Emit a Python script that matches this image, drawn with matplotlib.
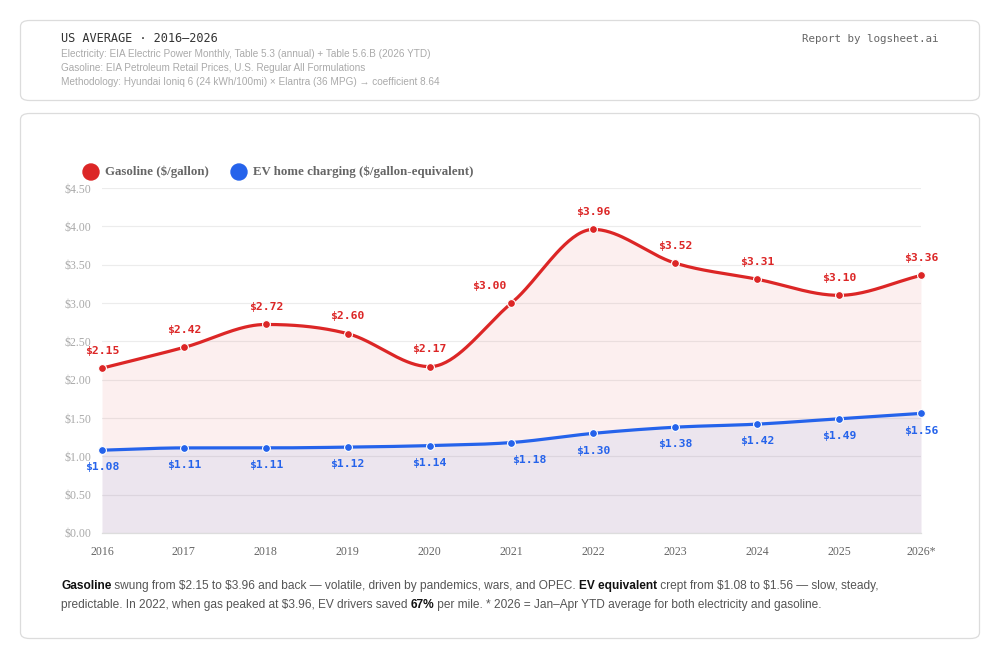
import numpy as np
import matplotlib
matplotlib.use("Agg")
import matplotlib.pyplot as plt
from matplotlib.patches import FancyBboxPatch, Circle

# ---------------- data ----------------
years = ["2016", "2017", "2018", "2019", "2020", "2021", "2022", "2023", "2024", "2025", "2026*"]
gasoline = [2.15, 2.42, 2.72, 2.60, 2.17, 3.00, 3.96, 3.52, 3.31, 3.10, 3.36]
ev_equiv = [1.08, 1.11, 1.11, 1.12, 1.14, 1.18, 1.30, 1.38, 1.42, 1.49, 1.56]
y_ticks = [0.0, 0.5, 1.0, 1.5, 2.0, 2.5, 3.0, 3.5, 4.0, 4.5]

RED = "#dc2626"
BLUE = "#2563eb"

W, H = 1000, 660


def monotone(xs, ys, n=40):
    xs = np.asarray(xs, float)
    ys = np.asarray(ys, float)
    h = np.diff(xs)
    d = np.diff(ys) / h
    m = np.zeros_like(ys)
    m[0], m[-1] = d[0], d[-1]
    for i in range(1, len(ys) - 1):
        if d[i - 1] * d[i] <= 0:
            m[i] = 0
        else:
            m[i] = (d[i - 1] + d[i]) / 2
    for i in range(len(d)):
        if d[i] == 0:
            m[i] = m[i + 1] = 0
            continue
        a, b = m[i] / d[i], m[i + 1] / d[i]
        s = a * a + b * b
        if s > 9:
            t = 3 / np.sqrt(s)
            m[i] = t * a * d[i]
            m[i + 1] = t * b * d[i]
    X, Y = [], []
    for i in range(len(d)):
        t = np.linspace(0, 1, n, endpoint=(i == len(d) - 1))
        h00 = 2 * t**3 - 3 * t**2 + 1
        h10 = t**3 - 2 * t**2 + t
        h01 = -2 * t**3 + 3 * t**2
        h11 = t**3 - t**2
        X.append(xs[i] + t * h[i])
        Y.append(h00 * ys[i] + h10 * h[i] * m[i] + h01 * ys[i + 1] + h11 * h[i] * m[i + 1])
    return np.concatenate(X), np.concatenate(Y)


fig = plt.figure(figsize=(W / 100, H / 100), dpi=100)
fig.patch.set_facecolor("white")


def fx(px):
    return px / W


def fy(py):
    return 1 - py / H


# cards
for (x0, y0, x1, y1) in [(20.5, 20.5, 979.5, 100.5), (20.5, 113.5, 979.5, 638.5)]:
    card = FancyBboxPatch((fx(x0), fy(y1)), fx(x1 - x0), (y1 - y0) / H,
                          boxstyle="round,pad=0,rounding_size=0.009",
                          transform=fig.transFigure, facecolor="white",
                          edgecolor="#dcdcdc", linewidth=0.9, zorder=-5)
    fig.patches.append(card)

# header texts
fig.text(fx(61), fy(39), "US AVERAGE · 2016–2026", family="DejaVu Sans Mono",
         fontsize=8.6, color="#333333", va="center", ha="left")
fig.text(fx(938), fy(39), "Report by logsheet.ai", family="DejaVu Sans Mono",
         fontsize=7.8, color="#666666", va="center", ha="right")
sub = ["Electricity: EIA Electric Power Monthly, Table 5.3 (annual) + Table 5.6.B (2026 YTD)",
       "Gasoline: EIA Petroleum Retail Prices, U.S. Regular All Formulations",
       "Methodology: Hyundai Ioniq 6 (24 kWh/100mi) × Elantra (36 MPG) → coefficient 8.64"]
for i, s in enumerate(sub):
    fig.text(fx(61), fy(54 + 14 * i), s, family="Liberation Sans", fontsize=7.2,
             color="#aaaaaa", va="center", ha="left")

# axes
ax = fig.add_axes([fx(102), fy(533), fx(921 - 102), (533 - 188) / H])
ax.set_facecolor("none")
xi = np.arange(len(years))
gx, gy = monotone(xi, gasoline)
ex, ey = monotone(xi, ev_equiv)

ax.fill_between(gx, gy, 0, color=RED, alpha=0.07, linewidth=0, zorder=1)
ax.fill_between(ex, ey, 0, color=BLUE, alpha=0.07, linewidth=0, zorder=1)
ax.plot(gx, gy, color=RED, lw=2.3, zorder=3, solid_capstyle="round")
ax.plot(ex, ey, color=BLUE, lw=2.3, zorder=3, solid_capstyle="round")
ax.scatter(xi, gasoline, s=32, color=RED, edgecolor="white", linewidth=0.8, zorder=4, clip_on=False)
ax.scatter(xi, ev_equiv, s=32, color=BLUE, edgecolor="white", linewidth=0.8, zorder=4, clip_on=False)

# data labels (offsets in pixels)
gas_off = {5: (-22, 0)}
ev_off = {5: (18, 0)}
for i, v in enumerate(gasoline):
    dx, dy = gas_off.get(i, (0, 0))
    ax.annotate(f"${v:.2f}", (i, v), xytext=(dx * 0.72, 12.4), textcoords="offset points",
                ha="center", va="center", family="DejaVu Sans Mono", fontweight="bold",
                fontsize=8.2, color=RED, zorder=5, annotation_clip=False, parse_math=False)
for i, v in enumerate(ev_equiv):
    dx, dy = ev_off.get(i, (0, 0))
    ax.annotate(f"${v:.2f}", (i, v), xytext=(dx * 0.72, -12.4), textcoords="offset points",
                ha="center", va="center", family="DejaVu Sans Mono", fontweight="bold",
                fontsize=8.2, color=BLUE, zorder=5, annotation_clip=False, parse_math=False)

ax.set_xlim(0, len(years) - 1)
ax.set_ylim(0, 4.5)
ax.set_yticks(y_ticks)
ax.set_yticklabels([f"${t:.2f}" for t in y_ticks])
ax.set_xticks(xi)
ax.set_xticklabels(years)
ax.grid(axis="y", color="#ececec", lw=0.8, zorder=0)
ax.set_axisbelow(True)
for s in ["top", "right", "left"]:
    ax.spines[s].set_visible(False)
ax.spines["bottom"].set_color("#dddddd")
ax.spines["bottom"].set_linewidth(0.9)
ax.tick_params(axis="both", length=0)
ax.tick_params(axis="y", pad=8, labelsize=8.6, labelcolor="#aaaaaa")
ax.tick_params(axis="x", pad=9.5, labelsize=8.6, labelcolor="#666666")
for lab in ax.get_xticklabels() + ax.get_yticklabels():
    lab.set_family("Liberation Serif")

# legend
for cx, color, label in [(91, RED, "Gasoline ($/gallon)"),
                         (239, BLUE, "EV home charging ($/gallon-equivalent)")]:
    c = Circle((cx / 100, (H - 172) / 100), 0.08, transform=fig.dpi_scale_trans, color=color)
    fig.patches.append(c)
    fig.text(fx(cx + 14), fy(172), label, family="Liberation Serif", fontweight="bold",
             fontsize=9.3, color="#666666", va="center", ha="left", parse_math=False)

# footer rich text
fig.canvas.draw()
renderer = fig.canvas.get_renderer()


def rich(x_px, y_px, parts):
    x = x_px
    for txt, bold in parts:
        t = fig.text(fx(x), fy(y_px), txt, family="Liberation Sans",
                     fontweight="bold" if bold else "normal", fontsize=8.6,
                     color="#111111" if bold else "#555555", va="center", ha="left",
                     parse_math=False)
        bb = t.get_window_extent(renderer)
        x += bb.width


rich(61, 586, [("Gasoline", True),
               (" swung from $2.15 to $3.96 and back — volatile, driven by pandemics, wars, and OPEC. ", False),
               ("EV equivalent", True),
               (" crept from $1.08 to $1.56 — slow, steady,", False)])
rich(61, 605, [("predictable. In 2022, when gas peaked at $3.96, EV drivers saved ", False),
               ("67%", True),
               (" per mile. * 2026 = Jan–Apr YTD average for both electricity and gasoline.", False)])

fig.savefig("out.png", dpi=100, facecolor="white")
